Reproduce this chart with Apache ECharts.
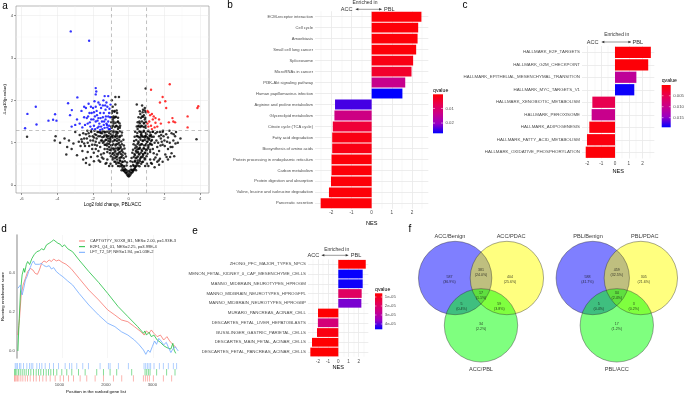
<!DOCTYPE html>
<html>
<head>
<meta charset="utf-8">
<script src="https://cdn.jsdelivr.net/npm/echarts@6/dist/echarts.min.js"></script>
<style>html,body{margin:0;padding:0;background:#fff}#main{width:685px;height:395px}</style>
</head>
<body>
<div id="main"></div>
<script>
var FONT = '"Liberation Sans", Arial, sans-serif';
var GREY = '#4d4d4d';
var Q_STOPS = ['#ff0000', '#e8004f', '#ca0089', '#9a00c3', '#0000ff'];

// a - volcano, PBL vs ACC
var volcanoXTicks = [-6, -4, -2, 0, 2, 4];
var volcanoXMinor = [-5, -3, -1, 1, 3];
var volcanoYTicks = [0, 1, 2, 3, 4];
var volcanoYMinor = [0.5, 1.5, 2.5, 3.5];
var volcanoCut = {fc: [-1, 1], p: 1.3};
var volcanoGrey = [
  [0,0.2],[-0.05,0.22],[0.05,0.22],[-0.1,0.25],[0.1,0.25],[-0.15,0.28],[0.15,0.28],[-0.2,0.3],[0.2,0.3],[0,0.26],
  [-0.25,0.33],[0.25,0.33],[-0.08,0.3],[0.08,0.3],[-0.3,0.36],[0.3,0.36],[-0.35,0.4],[0.35,0.4],[-0.18,0.36],[0.18,0.36],
  [-0.4,0.45],[0.4,0.45],[-0.45,0.5],[0.45,0.5],[-0.28,0.45],[0.28,0.45],[-0.55,0.52],[0.55,0.52],[-0.5,0.58],[0.5,0.58],
  [-0.35,0.55],[0.35,0.55],[-0.65,0.6],[0.62,0.6],[-0.7,0.66],[0.7,0.66],[-0.45,0.65],[0.45,0.65],[-0.8,0.7],[0.8,0.7],
  [-0.6,0.72],[0.6,0.72],[-0.9,0.75],[0.9,0.75],[-0.75,0.8],[0.75,0.8],[-0.5,0.78],[0.52,0.78],[-1.0,0.82],[1.0,0.82],
  [-0.85,0.86],[0.85,0.86],[-0.6,0.88],[0.62,0.88],[-1.1,0.9],[1.1,0.9],[-0.95,0.94],[0.95,0.94],[-0.7,0.96],[0.7,0.96],
  [-1.2,0.98],[1.2,0.98],[-1.05,1.02],[1.05,1.02],[-0.8,1.05],[0.8,1.05],[-1.3,1.06],[1.3,1.06],[-1.15,1.1],[1.15,1.1],
  [-0.9,1.12],[0.9,1.12],[-1.4,1.14],[1.4,1.14],[-1.25,1.18],[1.25,1.18],[-1.0,1.2],[1.0,1.2],[-1.5,1.22],[1.5,1.22],
  [-0.7,1.2],[0.7,1.2],[-1.35,1.26],[1.35,1.26],[-1.1,1.28],[1.1,1.28],[-0.85,1.28],[0.85,1.28],[-1.6,1.25],[1.6,1.25],
  [-1.2,0.6],[-1.5,0.65],[-1.4,0.75],[-1.7,0.8],[-1.6,0.9],[-1.9,0.95],[-2.0,1.05],[-1.8,1.1],[-2.2,1.15],[-2.1,1.25],
  [-1.9,1.2],[-2.4,1.2],[-2.3,1.0],[-2.5,1.1],[-1.3,0.5],[-1.1,0.45],[-1.6,0.55],[-2.4,0.52],[-2.2,0.48],[-1.95,0.56],
  [-2.6,0.8],[-2.7,0.92],[-2.5,0.98],[-2.8,1.02],[-2.65,1.08],[-3.0,1.25],[-3.1,0.98],[-3.35,1.05],[-3.45,0.9],[-3.6,1.1],
  [-3.85,1.0],[-3.2,0.85],[-3.5,0.72],[-4.1,1.15],[-4.15,1.05],[-5.7,1.14],[-2.9,0.7],[-2.3,0.78],[-1.75,0.68],[-2.05,0.85],
  [1.2,0.6],[1.5,0.65],[1.4,0.75],[1.7,0.8],[1.6,0.9],[1.9,0.95],[2.0,1.05],[1.8,1.1],[2.2,1.12],[2.1,1.2],
  [1.9,1.25],[2.4,1.22],[2.3,1.0],[2.5,1.05],[1.3,0.5],[1.1,0.45],[1.6,0.55],[1.9,0.55],[2.2,0.6],[1.7,0.48],
  [2.45,0.9],[2.6,1.15],[2.65,1.25],[2.75,1.0],[2.4,0.75],[2.2,0.85],[2.05,0.72],[2.55,0.68],[3.8,1.08],[2.9,1.1],
  [1.75,0.62],[1.45,0.42],
  [-0.95,1.35],[-0.85,1.45],[-0.7,1.4],[-0.9,1.55],[-0.75,1.6],[-0.6,1.5],[-0.95,1.7],[-0.8,1.75],[-0.65,1.7],[-0.9,1.85],
  [-0.75,1.9],[-0.55,2.08],[-0.75,2.08],[-0.95,2.0],[-0.85,1.62],[-0.5,1.35],[-0.6,1.32],
  [0.95,1.35],[0.85,1.45],[0.7,1.4],[0.9,1.55],[0.75,1.62],[0.6,1.5],[0.95,1.72],[0.8,1.78],[0.65,1.68],[0.9,1.82],
  [0.75,1.88],[0.45,1.9],[0.95,2.28],[0.55,1.38],[0.85,1.65],[0.5,1.32],
  [-0.55,1.0],[-0.65,1.1],[-0.45,0.9],[-0.5,1.15],[-0.4,0.8],[-0.35,0.7],[-0.55,0.85],[-0.75,1.15],[-0.65,1.25],[-0.95,1.15],
  [-1.05,1.1],[-1.2,1.15],[-1.3,0.95],[-1.45,1.0],[-1.55,1.05],[-1.7,1.15],[-1.65,1.0],[-1.2,0.78],[-1.0,0.68],[-0.9,0.6],
  [-0.8,0.55],[-0.7,0.5],[-1.35,0.85],
  [0.55,1.0],[0.65,1.12],[0.45,0.9],[0.5,1.15],[0.4,0.8],[0.35,0.7],[0.55,0.85],[0.75,1.15],[0.65,1.25],[0.95,1.15],
  [1.05,1.1],[1.2,1.15],[1.3,0.95],[1.45,1.0],[1.55,1.05],[1.7,1.15],[1.65,1.0],[1.2,0.78],[1.0,0.68],[0.9,0.6],
  [0.8,0.55],[0.7,0.5],[1.35,0.85],
  [-0.4,0.35],[-0.3,0.34],[-0.21,0.37],[-0.11,0.34],[0.02,0.33],[0.11,0.36],[0.21,0.34],[0.31,0.37],[0.41,0.35],
  [-0.6,0.45],[-0.5,0.44],[-0.38,0.47],[-0.25,0.43],[-0.12,0.46],[0.12,0.44],[0.25,0.47],[0.38,0.43],[0.5,0.46],[0.6,0.44],
  [-0.75,0.55],[-0.62,0.53],[-0.48,0.57],[-0.35,0.54],[-0.22,0.56],[-0.1,0.53],[0.1,0.56],[0.22,0.54],[0.35,0.57],[0.48,0.53],[0.62,0.56],[0.75,0.54],
  [-0.9,0.65],[-0.78,0.63],[-0.66,0.67],[-0.52,0.64],[-0.4,0.66],[-0.28,0.63],[-0.16,0.67],[0.16,0.64],[0.28,0.66],[0.4,0.63],[0.52,0.67],[0.66,0.64],[0.78,0.66],[0.9,0.63],
  [-1.05,0.75],[-0.92,0.73],[-0.8,0.77],[-0.68,0.74],[-0.56,0.76],[-0.44,0.73],[-0.32,0.77],[-0.2,0.74],[0.2,0.76],[0.32,0.73],[0.44,0.77],[0.56,0.74],[0.68,0.76],[0.8,0.73],[0.92,0.77],[1.05,0.74],
  [-1.2,0.85],[-1.08,0.83],[-0.96,0.87],[-0.84,0.84],[-0.72,0.86],[-0.6,0.83],[-0.48,0.87],[-0.36,0.84],[-0.24,0.86],[0.24,0.83],[0.36,0.87],[0.48,0.84],[0.6,0.86],[0.72,0.83],[0.84,0.87],[0.96,0.84],[1.08,0.86],[1.2,0.83],
  [-1.35,0.95],[-1.22,0.93],[-1.1,0.97],[-0.98,0.94],[-0.86,0.96],[-0.74,0.93],[-0.62,0.97],[-0.5,0.94],[-0.38,0.96],[-0.27,0.93],[0.27,0.96],[0.38,0.93],[0.5,0.97],[0.62,0.94],[0.74,0.96],[0.86,0.93],[0.98,0.97],[1.1,0.94],[1.22,0.96],
  [-1.5,1.05],[-1.38,1.03],[-1.26,1.07],[-1.14,1.04],[-1.02,1.06],[-0.9,1.03],[-0.78,1.07],[-0.66,1.04],[-0.54,1.06],[-0.42,1.03],[-0.3,1.07],[0.3,1.04],[0.42,1.06],[0.54,1.03],[0.66,1.07],[0.78,1.04],[0.9,1.06],[1.02,1.03],[1.14,1.07],[1.26,1.04],
  [-1.6,1.15],[-1.48,1.13],[-1.36,1.17],[-1.24,1.14],[-1.12,1.16],[-1.0,1.13],[-0.88,1.17],[-0.76,1.14],[-0.64,1.16],[-0.52,1.13],[-0.4,1.17],[0.33,1.14],[0.45,1.16],[0.57,1.13],[0.69,1.17],[0.81,1.14],[0.93,1.16],[1.05,1.13],[1.17,1.17],[1.3,1.14],
  [-1.7,1.25],[-1.58,1.23],[-1.46,1.27],[-1.34,1.24],[-1.22,1.26],[-1.1,1.23],[-0.98,1.27],[-0.86,1.24],[-0.74,1.26],[-0.62,1.23],[-0.5,1.27],[-0.38,1.24],[0.36,1.26],[0.48,1.23],[0.6,1.27],[0.72,1.24],[0.84,1.26],[0.96,1.23],[1.08,1.27],[1.2,1.24],[1.35,1.26],
  [-0.98,1.38],[-0.88,1.4],[-0.78,1.37],[-0.68,1.39],[-0.58,1.37],[-0.48,1.4],[0.45,1.38],[0.55,1.4],[0.65,1.37],[0.75,1.39],[0.85,1.37],[0.95,1.4],
  [-0.98,1.48],[-0.86,1.5],[-0.74,1.47],[-0.62,1.49],[-0.52,1.46],[0.5,1.48],[0.62,1.46],[0.74,1.5],[0.86,1.47],[0.97,1.49],
  [-0.96,1.6],[-0.84,1.58],[-0.72,1.61],[-0.6,1.59],[0.55,1.6],[0.68,1.58],[0.8,1.61],[0.93,1.59],
  [-0.92,1.75],[-0.8,1.73],[-0.68,1.76],[0.62,1.74],[0.78,1.72],[0.9,1.76],
  [-1.85,1.02],[-1.95,1.12],[-2.15,1.05],[-2.25,1.22],[-2.35,1.1],[-1.75,1.25],[-2.45,0.92],[-2.05,0.95],[-1.85,0.85],[1.85,1.02],[1.95,1.15],[2.15,1.02],[1.75,1.25],[2.35,0.9],
  [-1.82,1.18],[-1.92,1.28],[-2.02,1.15],[-2.12,1.28],[-2.32,1.28],[-2.55,1.22],[-2.62,1.02],[-2.22,0.92],[-1.96,0.76],[-1.55,0.72],
  [-1.42,0.62],[-1.68,0.58],[-2.12,0.66],[-2.55,0.6],[-1.25,0.52],[-1.02,0.5],[-0.92,0.45],[-1.78,0.93],[-2.38,0.64],[-2.75,1.18],
  [1.82,1.18],[1.92,1.28],[2.02,0.92],[2.28,1.28],[2.52,1.2],[1.58,0.72],[1.42,0.6],[1.68,0.58],[2.12,0.66],[1.02,0.5],
  [0.92,0.45],[1.25,0.52],[1.78,0.93],[2.32,0.66],[2.62,0.98]
];
var volcanoDown = [
  [-1.05,1.32],[-1.1,1.4],[-1.15,1.5],[-1.2,1.36],[-1.25,1.45],[-1.3,1.55],[-1.35,1.35],[-1.4,1.42],[-1.45,1.6],[-1.5,1.5],
  [-1.55,1.38],[-1.6,1.7],[-1.65,1.45],[-1.7,1.58],[-1.75,1.35],[-1.8,1.75],[-1.85,1.5],[-1.9,1.62],[-1.95,1.4],[-2.0,1.82],
  [-2.1,1.55],[-2.2,1.7],[-2.3,1.45],[-2.4,1.82],[-2.5,1.6],[-2.6,1.36],[-1.1,1.7],[-1.2,1.85],[-1.3,1.78],[-1.45,1.88],
  [-1.55,1.82],[-1.7,1.95],[-1.85,1.85],[-1.15,2.1],[-1.35,2.1],[-1.25,1.95],[-1.05,1.6],[-1.08,1.8],[-2.25,1.92],[-2.5,1.85],
  [-2.65,1.75],[-2.15,1.38],[-1.95,1.72],[-1.6,1.3],[-1.4,1.7],[-1.75,1.52],[-2.05,1.32],[-2.35,1.58],[-2.75,1.45],[-1.15,1.62],
  [-1.02,1.9],[-1.12,1.32],[-1.28,1.62],[-1.38,1.5],[-1.48,1.32],[-1.58,1.58],[-1.68,1.38],[-1.78,1.65],[-1.88,1.32],[-1.98,1.55],
  [-2.08,1.7],[-2.18,1.48],[-2.28,1.62],[-2.45,1.42],[-1.62,1.9],[-1.42,2.0],[-1.92,1.98],[-2.12,1.85],[-1.22,1.42],[-1.32,1.88],
  [-3.25,3.63],[-2.22,3.41],[-1.85,2.29],[-1.82,2.21],[-1.85,2.14],[-2.88,2.07],[-5.21,1.85],[-5.68,1.68],[-5.81,1.34],[-5.17,1.43],
  [-4.5,1.52],[-4.24,1.54],[-4.13,1.67],[-4.05,1.52],[-3.4,1.93],[-3.29,1.65],[-3.19,1.77],[-3.0,1.42],[-2.9,1.55],[-3.2,1.38]
];
var volcanoUp = [
  [2.3,2.38],[1.25,2.25],[1.9,2.08],[2.05,1.98],[1.75,1.95],[2.1,1.82],[1.05,1.75],[1.1,1.72],[1.2,1.65],[1.3,1.68],
  [1.4,1.62],[1.35,1.55],[1.15,1.5],[1.5,1.47],[1.7,1.55],[1.8,1.45],[2.45,1.58],[2.6,1.48],[2.5,1.5],[3.3,1.62],
  [3.3,1.36],[3.85,1.82],[3.9,1.86],[1.05,1.45],[1.25,1.4],[1.45,1.36],[1.6,1.38],[2.25,1.48],[1.1,1.38],[1.5,1.58],[1.3,1.32]
];

// b - KEGG GSEA
var keggTerms = ['ECM-receptor interaction', 'Cell cycle', 'Amoebiasis', 'Small cell lung cancer', 'Spliceosome',
  'MicroRNAs in cancer', 'PI3K-Akt signaling pathway', 'Human papillomavirus infection', 'Arginine and proline metabolism',
  'Glycerolipid metabolism', 'Citrate cycle (TCA cycle)', 'Fatty acid degradation', 'Biosynthesis of amino acids',
  'Protein processing in endoplasmic reticulum', 'Carbon metabolism', 'Protein digestion and absorption',
  'Valine, leucine and isoleucine degradation', 'Pancreatic secretion'];
var keggNES = [2.46, 2.3, 2.27, 2.2, 2.05, 1.97, 1.66, 1.52, -1.81, -1.84, -1.92, -1.95, -1.95, -1.98, -1.98, -2.01, -2.11, -2.52];
var keggQ = [0.001, 0.001, 0.001, 0.001, 0.002, 0.004, 0.014, 0.027, 0.024, 0.013, 0.005, 0.002, 0.002, 0.001, 0.001, 0.001, 0.001, 0.001];
var keggTicks = [-2, -1, 0, 1, 2];
var keggMinor = [-2.5, -1.5, -0.5, 0.5, 1.5, 2.5];
var keggQTicks = [0.01, 0.02];

// c - Hallmark GSEA
var hallTerms = ['HALLMARK_E2F_TARGETS', 'HALLMARK_G2M_CHECKPOINT', 'HALLMARK_EPITHELIAL_MESENCHYMAL_TRANSITION',
  'HALLMARK_MYC_TARGETS_V1', 'HALLMARK_XENOBIOTIC_METABOLISM', 'HALLMARK_PEROXISOME', 'HALLMARK_ADIPOGENESIS',
  'HALLMARK_FATTY_ACID_METABOLISM', 'HALLMARK_OXIDATIVE_PHOSPHORYLATION'];
var hallNES = [2.6, 2.41, 1.55, 1.4, -1.64, -1.69, -1.86, -2.03, -2.12];
var hallQ = [0.0005, 0.0005, 0.011, 0.019, 0.005, 0.010, 0.001, 0.001, 0.0005];
var hallTicks = [-2, -1, 0, 1, 2];
var hallMinor = [-1.5, -0.5, 0.5, 1.5, 2.5];
var hallQTicks = [0.005, 0.010, 0.015];

// d - running enrichment score
var gseaNames = ['CAPTGTYY_SOX8_B1, NES= 2.00, p=1.93E-3', 'E2F1_Q4_01, NES=2.25, p=3.99E-4', 'LFT_T2_5P, NES=1.94, p=1.03E-2'];
var gseaColors = ['#f8766d', '#1fbf3f', '#6fa8ff'];
var gseaCapt = [[26,0.081],[62,0.166],[98,0.285],[141,0.336],[191,0.37],[241,0.404],[298,0.42],[356,0.412],[406,0.395],[456,0.39],
  [499,0.412],[549,0.446],[599,0.458],[657,0.451],[714,0.463],[764,0.455],[814,0.468],[872,0.458],[929,0.463],[1001,0.451],
  [1087,0.441],[1194,0.42],[1373,0.37],[1588,0.31],[1803,0.26],[2004,0.209],[2162,0.183],[2305,0.158],[2448,0.149],[2592,0.124],
  [2735,0.098],[2807,0.081],[2857,0.102],[2914,0.09],[2964,0.107],[3022,0.09],[3093,0.073],[3165,0.081],[3237,0.056],[3308,0.073],
  [3380,0.047],[3452,0.031],[3509,0.017]];
var gseaE2f = [[26,0],[48,0.13],[83,0.3],[119,0.387],[155,0.42],[176,0.4],[212,0.44],[241,0.455],[284,0.44],[334,0.47],
  [384,0.49],[442,0.505],[499,0.51],[549,0.52],[599,0.514],[657,0.54],[714,0.548],[764,0.556],[814,0.565],[857,0.56],
  [908,0.548],[958,0.543],[1001,0.53],[1051,0.54],[1123,0.52],[1230,0.505],[1373,0.463],[1588,0.404],[1803,0.349],[2004,0.293],
  [2233,0.226],[2448,0.175],[2664,0.124],[2792,0.09],[2821,0.102],[2857,0.081],[2914,0.095],[2964,0.073],[3022,0.081],[3093,0.056],
  [3165,0.044],[3237,0.027],[3308,0.017],[3395,0.01],[3438,0.039],[3466,0.005],[3502,-0.012]];
var gseaLft = [[26,0.319],[55,0.31],[83,0.336],[119,0.285],[155,0.319],[191,0.361],[227,0.378],[263,0.404],[298,0.424],[334,0.446],
  [370,0.458],[406,0.441],[442,0.451],[499,0.441],[549,0.446],[599,0.434],[657,0.429],[714,0.434],[764,0.417],[814,0.424],
  [872,0.404],[943,0.39],[1015,0.378],[1123,0.356],[1230,0.336],[1373,0.293],[1588,0.234],[1803,0.183],[2004,0.141],[2162,0.124],
  [2305,0.098],[2448,0.081],[2592,0.056],[2699,0.031],[2792,0.005],[2843,-0.017],[2893,0.005],[2936,-0.007],[2986,0.022],[3036,0.051],
  [3079,0.034],[3129,0.064],[3179,0.051],[3237,0.031],[3294,0.044],[3344,0.017],[3395,-0.008],[3438,0.01],[3488,0.022],[3559,0]];
var rugCapt = [33,47,69,98,126,169,212,263,313,370,442,499,571,642,714,800,908,1015,1087,1194,1302,1445,1588,1768,1947,2162,2341,2592,2807,2850,2893,2936,3022,3237,3416];
var rugE2f = [33,55,83,119,155,198,241,284,334,384,442,499,549,599,657,714,764,814,872,943,1051,1158,1266,1409,1553,1803,1947,2090,2233,2556,2843,2879,2914,2950,3093,3308,3488];
var rugLft = [47,69,98,141,169,227,298,356,392,427,513,571,621,693,786,872,979,1123,1216,1266,1373,1502,1624,1875,2054,2090,2269,2484,2821,2857,2893,2929,2964,3036,3151,3237,3344,3452,3523];
var gseaXTicks = [1000, 2000, 3000];
var gseaYTicks = [0, 0.2, 0.4];

// e - cell type signatures
var cellTerms = ['ZHONG_PFC_MAJOR_TYPES_NPCS', 'MENON_FETAL_KIDNEY_0_CAP_MESENCHYME_CELLS', 'MANNO_MIDBRAIN_NEUROTYPES_HPROGM',
  'MANNO_MIDBRAIN_NEUROTYPES_HPROGFPL', 'MANNO_MIDBRAIN_NEUROTYPES_HPROGBP', 'MURARO_PANCREAS_ACINAR_CELL',
  'DESCARTES_FETAL_LIVER_HEPATOBLASTS', 'BUSSLINGER_GASTRIC_PARIETAL_CELLS', 'DESCARTES_MAIN_FETAL_ACINAR_CELLS',
  'DESCARTES_FETAL_PANCREAS_ACINAR_CELLS'];
var cellNES = [2.69, 2.39, 2.39, 2.29, 2.26, -1.99, -2.0, -2.09, -2.58, -2.74];
var cellQ = [0.6e-5, 4.55e-5, 4.5e-5, 1.9e-5, 3.8e-5, 0.6e-5, 2.3e-5, 0.8e-5, 0.6e-5, 0.6e-5];
var cellTicks = [-3, -2, -1, 0, 1, 2];
var cellMinor = [-2.5, -1.5, -0.5, 0.5, 1.5, 2.5];
var cellQTicks = [1e-5, 2e-5, 3e-5, 4e-5];
var cellQLabels = ['1e-05', '2e-05', '3e-05', '4e-05'];

// f - venn diagrams, region order: A, B, C, AB, AC, BC, ABC
var vennLeftSets = ['ACC/Benign', 'ACC/PDAC', 'ACC/PBL'];
var vennLeftCounts = [587, 404, 34, 381, 5, 59, 17];
var vennLeftPct = ['36.9%', '25.6%', '2.2%', '24.0%', '0.4%', '3.8%', '1.1%'];
var vennRightSets = ['PBL/Benign', 'PBL/PDAC', 'PBL/ACC'];
var vennRightCounts = [588, 305, 17, 459, 5, 3, 34];
var vennRightPct = ['41.7%', '21.6%', '1.2%', '32.5%', '0.4%', '0.2%', '2.4%'];

// venn layout (units of circle radius)
var vennCenters = [[-0.705, 0], [0.705, 0], [0, -1.29]];
var vennRegionPos = [[-0.86, -0.04], [0.79, -0.04], [0, -1.31], [0, 0.16], [-0.53, -0.79], [0.5, -0.79], [0, -0.48]];
var vennNamePos = [[-0.845, 1.125], [0.82, 1.125], [0, -2.48]];
var vennFills = ['rgba(0,0,255,0.5)', 'rgba(255,255,0,0.5)', 'rgba(0,255,0,0.5)'];
var VENN_D = 73.4;

var series = [];
var visualMap = [];
function addSeries(s) { series.push(s); return series.length - 1; }

// grid lines drawn as markLines so they follow each axis scale
function gridLines(ai, xs, ys, color, width, dash, z) {
  var d = xs.map(function (v) { return {xAxis: v}; }).concat(ys.map(function (v) { return {yAxis: v}; }));
  addSeries({
    type: 'scatter', xAxisIndex: ai, yAxisIndex: ai, data: [], silent: true, z: z || 1,
    markLine: {z: z || 1, symbol: ['none', 'none'], silent: true, label: {show: false}, animation: false,
      lineStyle: {color: color, width: width, type: dash || 'solid'}, data: d}
  });
}

function bars(ai, terms, nes, q, qmin, qmax) {
  var idx = addSeries({
    type: 'bar', xAxisIndex: ai, yAxisIndex: ai, barCategoryGap: '10%', z: 3,
    encode: {x: 0, y: 1},
    data: terms.map(function (t, i) { return [nes[i], t, q[i]]; })
  });
  visualMap.push({type: 'continuous', show: false, seriesIndex: idx, dimension: 2, min: qmin, max: qmax, inRange: {color: Q_STOPS}});
}

function nesAxis(gi, min, max, ticks, margin, gap) {
  return {gridIndex: gi, type: 'value', min: min, max: max,
    axisLine: {show: false, onZero: false}, axisTick: {show: false}, splitLine: {show: false},
    axisLabel: {customValues: ticks, fontSize: 4.6, color: GREY, margin: margin, fontFamily: FONT},
    name: 'NES', nameLocation: 'middle', nameGap: gap, nameTextStyle: {fontSize: 5.6, color: '#000', fontFamily: FONT}};
}
function termAxis(gi, terms, fs) {
  return {gridIndex: gi, type: 'category', data: terms, inverse: true,
    axisLine: {show: false}, axisTick: {show: false}, splitLine: {show: false},
    axisLabel: {interval: 0, fontSize: fs, color: GREY, margin: 2, fontFamily: FONT}};
}
function hiddenAxis(gi, min, max) {
  return {gridIndex: gi, type: 'value', min: min, max: max, show: false, splitLine: {show: false}};
}

// ---- a
gridLines(0, volcanoXMinor, volcanoYMinor, '#f3f3f3', 0.35);
gridLines(0, volcanoXTicks, volcanoYTicks, '#e6e6e6', 0.5);
addSeries({type: 'scatter', xAxisIndex: 0, yAxisIndex: 0, data: volcanoGrey, symbolSize: 2.5, itemStyle: {color: '#000'}, z: 2});
addSeries({type: 'scatter', xAxisIndex: 0, yAxisIndex: 0, data: volcanoDown, symbolSize: 2.4, itemStyle: {color: '#0000ff'}, z: 2});
addSeries({type: 'scatter', xAxisIndex: 0, yAxisIndex: 0, data: volcanoUp, symbolSize: 2.4, itemStyle: {color: '#ff0000'}, z: 2});
gridLines(0, volcanoCut.fc, [volcanoCut.p], '#9a9a9a', 0.6, [3.5, 3], 6);

// ---- b, c, e
gridLines(1, keggMinor, [], '#f0f0f0', 0.45);
gridLines(1, keggTicks, keggTerms, '#e8e8e8', 0.8);
bars(1, keggTerms, keggNES, keggQ, 0.0003, 0.027);
gridLines(2, hallMinor, [], '#f0f0f0', 0.45);
gridLines(2, hallTicks, hallTerms, '#e8e8e8', 0.8);
bars(2, hallTerms, hallNES, hallQ, 0.0001, 0.0194);
gridLines(5, cellMinor, [], '#f0f0f0', 0.45);
gridLines(5, cellTicks, cellTerms, '#e8e8e8', 0.8);
bars(5, cellTerms, cellNES, cellQ, 0.59e-5, 4.59e-5);

// ---- d
gridLines(3, gseaXTicks, [], '#ececec', 0.5);
[gseaCapt, gseaE2f, gseaLft].forEach(function (d, i) {
  addSeries({type: 'line', name: gseaNames[i], xAxisIndex: 3, yAxisIndex: 3, data: d, showSymbol: false,
    lineStyle: {color: gseaColors[i], width: 0.8}, itemStyle: {color: gseaColors[i]}, z: 3});
});
var rugRows = ['LFT', 'E2F1', 'CAPTGTYY'];
[[rugLft, 'LFT', gseaColors[2]], [rugE2f, 'E2F1', gseaColors[1]], [rugCapt, 'CAPTGTYY', gseaColors[0]]].forEach(function (r) {
  addSeries({type: 'scatter', xAxisIndex: 4, yAxisIndex: 4, symbol: 'rect', symbolSize: [0.9, 6.4],
    data: r[0].map(function (p) { return [p, r[1]]; }), itemStyle: {color: r[2], opacity: 0.6}});
});

// ---- f
function venn(ai, sets, counts, pct) {
  vennCenters.forEach(function (c, i) {
    addSeries({type: 'scatter', xAxisIndex: ai, yAxisIndex: ai, data: [c], symbolSize: VENN_D, silent: true,
      itemStyle: {color: vennFills[i], opacity: 1}, z: 2});
  });
  addSeries({type: 'scatter', xAxisIndex: ai, yAxisIndex: ai, data: vennCenters, symbolSize: VENN_D, silent: true,
    itemStyle: {color: 'rgba(0,0,0,0)', borderColor: '#2a2a2a', borderWidth: 0.5}, z: 3});
  addSeries({type: 'scatter', xAxisIndex: ai, yAxisIndex: ai, symbolSize: 1, silent: true, z: 4,
    data: vennRegionPos.map(function (p, i) { return [p[0], p[1], counts[i], pct[i]]; }),
    itemStyle: {color: 'rgba(0,0,0,0)'},
    label: {show: true, position: 'inside', fontSize: 3.6, lineHeight: 5, color: '#111', fontFamily: FONT,
      formatter: function (p) { return p.value[2] + '\n(' + p.value[3] + ')'; }}});
  addSeries({type: 'scatter', xAxisIndex: ai, yAxisIndex: ai, symbolSize: 1, silent: true, z: 4,
    data: vennNamePos.map(function (p, i) { return [p[0], p[1], sets[i]]; }),
    itemStyle: {color: 'rgba(0,0,0,0)'},
    label: {show: true, position: 'inside', fontSize: 5.6, color: '#000', fontFamily: FONT,
      formatter: function (p) { return p.value[2]; }}});
}
venn(6, vennLeftSets, vennLeftCounts, vennLeftPct);
venn(7, vennRightSets, vennRightCounts, vennRightPct);

// ---- annotation graphics
function txt(x, y, s, fs, color, align) {
  return {type: 'text', x: x, y: y, silent: true,
    style: {text: s, fontSize: fs, fontFamily: FONT, fill: color || '#000', align: align || 'center', verticalAlign: 'middle'}};
}
function enriched(cx, ty, accX, pblX, ax1, ax2, ay) {
  return [txt(cx, ty, 'Enriched in', 5, '#333'), txt(accX, ay, 'ACC', 5.6, '#333'), txt(pblX, ay, 'PBL', 5.6, '#333'),
    {type: 'line', silent: true, shape: {x1: ax1, y1: ay, x2: ax2, y2: ay}, style: {stroke: '#333', lineWidth: 0.5}},
    {type: 'polygon', silent: true, shape: {points: [[ax1, ay], [ax1 + 2.6, ay - 1.2], [ax1 + 2.6, ay + 1.2]]}, style: {fill: '#333'}},
    {type: 'polygon', silent: true, shape: {points: [[ax2, ay], [ax2 - 2.6, ay - 1.2], [ax2 - 2.6, ay + 1.2]]}, style: {fill: '#333'}}];
}
function colorbar(x, y, w, h, qmin, qmax, ticks, labels) {
  var stops = Q_STOPS.map(function (c, i) { return {offset: i / (Q_STOPS.length - 1), color: c}; });
  var els = [
    {type: 'rect', silent: true, shape: {x: x, y: y, width: w, height: h}, style: {fill: new echarts.graphic.LinearGradient(0, 0, 0, 1, stops)}},
    txt(x, y - 4, 'qvalue', 5.2, '#000', 'left')
  ];
  ticks.forEach(function (t, i) {
    var ty = y + (t - qmin) / (qmax - qmin) * h;
    els.push({type: 'line', silent: true, shape: {x1: x, y1: ty, x2: x + w * 0.2, y2: ty}, style: {stroke: '#fff', lineWidth: 0.5}});
    els.push({type: 'line', silent: true, shape: {x1: x + w * 0.8, y1: ty, x2: x + w, y2: ty}, style: {stroke: '#fff', lineWidth: 0.5}});
    els.push(txt(x + w + 2.5, ty, labels[i], 4.3, GREY, 'left'));
  });
  return els;
}
var graphics = [
  txt(5, 6, 'a', 10), txt(230, 5, 'b', 10), txt(465, 5, 'c', 10), txt(4, 229, 'd', 10), txt(195, 231, 'e', 10), txt(410, 229, 'f', 10)
].concat(enriched(365, 2.8, 346.7, 389.3, 355.7, 381.7, 9.3))
 .concat(enriched(616.7, 35, 592.7, 637.7, 601.7, 631, 42))
 .concat(enriched(336.7, 249.3, 313.3, 356, 321.7, 348.3, 255.3))
 .concat(colorbar(433, 94.3, 10, 39, 0.0003, 0.027, keggQTicks, ['0.01', '0.02']))
 .concat(colorbar(661.7, 85, 9, 42.3, 0.0001, 0.0194, hallQTicks, ['0.005', '0.010', '0.015']))
 .concat(colorbar(375, 293.3, 7.3, 36, 0.59e-5, 4.59e-5, cellQTicks, cellQLabels));

var option = {
  animation: false,
  backgroundColor: '#fff',
  textStyle: {fontFamily: FONT},
  grid: [
    {left: 16, top: 6, width: 193, height: 187, show: true, borderColor: '#8c8c8c', borderWidth: 0.6, backgroundColor: '#fff'},
    {left: 315, top: 11.2, width: 113.3, height: 197.6},
    {left: 582, top: 46, width: 72.3, height: 112.5},
    {left: 13, top: 235, width: 166, height: 123},
    {left: 13, top: 363, width: 166, height: 19.5},
    {left: 308, top: 259.4, width: 60.3, height: 97.5},
    {left: 407.6, top: 219.3, width: 146.8, height: 154.1},
    {left: 548.6, top: 219.3, width: 146.8, height: 154.1}
  ],
  xAxis: [
    {gridIndex: 0, type: 'value', min: -6.32, max: 4.5, axisLine: {show: false, onZero: false},
      axisTick: {show: true, length: 2, customValues: volcanoXTicks, lineStyle: {color: '#333', width: 0.5}},
      axisLabel: {customValues: volcanoXTicks, fontSize: 4.2, color: GREY, margin: 3.5, fontFamily: FONT}, splitLine: {show: false},
      name: 'Log2 fold change, PBL/ACC', nameLocation: 'middle', nameGap: 9.5, nameTextStyle: {fontSize: 4.6, color: '#000', fontFamily: FONT}},
    nesAxis(1, -2.8, 2.8, keggTicks, 1.5, 8),
    nesAxis(2, -2.39, 2.85, hallTicks, 3, 10),
    {gridIndex: 3, type: 'value', min: 0, max: 3574, axisLine: {show: false, onZero: false}, axisTick: {show: false},
      axisLabel: {show: false}, splitLine: {show: false}},
    {gridIndex: 4, type: 'value', min: 0, max: 3574, axisLine: {show: false, onZero: false}, axisTick: {show: false},
      axisLabel: {customValues: gseaXTicks, fontSize: 4.2, color: GREY, margin: 1.8, fontFamily: FONT, formatter: function (v) { return String(v); }},
      splitLine: {show: false},
      name: 'Position in the ranked gene list', nameLocation: 'middle', nameGap: 8.5, nameTextStyle: {fontSize: 4.4, color: '#000', fontFamily: FONT}},
    nesAxis(5, -2.97, 2.94, cellTicks, 2, 7.5),
    hiddenAxis(6, -2, 2),
    hiddenAxis(7, -2, 2)
  ],
  yAxis: [
    {gridIndex: 0, type: 'value', min: -0.19, max: 4.23, axisLine: {show: false, onZero: false},
      axisTick: {show: true, length: 2, customValues: volcanoYTicks, lineStyle: {color: '#333', width: 0.5}},
      axisLabel: {customValues: volcanoYTicks, fontSize: 4.2, color: GREY, margin: 3, fontFamily: FONT}, splitLine: {show: false},
      name: '-Log10(p.value)', nameLocation: 'middle', nameGap: 8, nameRotate: 90, nameTextStyle: {fontSize: 4.4, color: '#000', fontFamily: FONT}},
    termAxis(1, keggTerms, 4.1),
    termAxis(2, hallTerms, 4.4),
    {gridIndex: 3, type: 'value', min: -0.0356, max: 0.59, axisLine: {show: true, onZero: false, lineStyle: {color: '#b5b5b5', width: 1.6}},
      axisTick: {show: false}, splitLine: {show: false},
      axisLabel: {customValues: gseaYTicks, fontSize: 4.2, color: GREY, margin: 2, fontFamily: FONT, formatter: function (v) { return v.toFixed(1); }},
      name: 'Running enrichment score', nameLocation: 'middle', nameGap: 8.5, nameRotate: 90, nameTextStyle: {fontSize: 4.2, color: '#000', fontFamily: FONT}},
    {gridIndex: 4, type: 'category', data: rugRows, inverse: true, show: false},
    termAxis(5, cellTerms, 4.4),
    hiddenAxis(6, -2.6, 1.6),
    hiddenAxis(7, -2.6, 1.6)
  ],
  legend: {data: gseaNames, orient: 'vertical', left: 79, top: 238.5, padding: 0, itemWidth: 6, itemHeight: 1, itemGap: 0.65,
    icon: 'rect', selectedMode: false, textStyle: {fontSize: 4.1, lineHeight: 5, color: '#333', fontFamily: FONT}},
  visualMap: visualMap,
  graphic: graphics,
  series: series
};

var chart = echarts.init(document.getElementById('main'));
chart.setOption(option);
window.addEventListener('resize', function () { chart.resize(); });
</script>
</body>
</html>
